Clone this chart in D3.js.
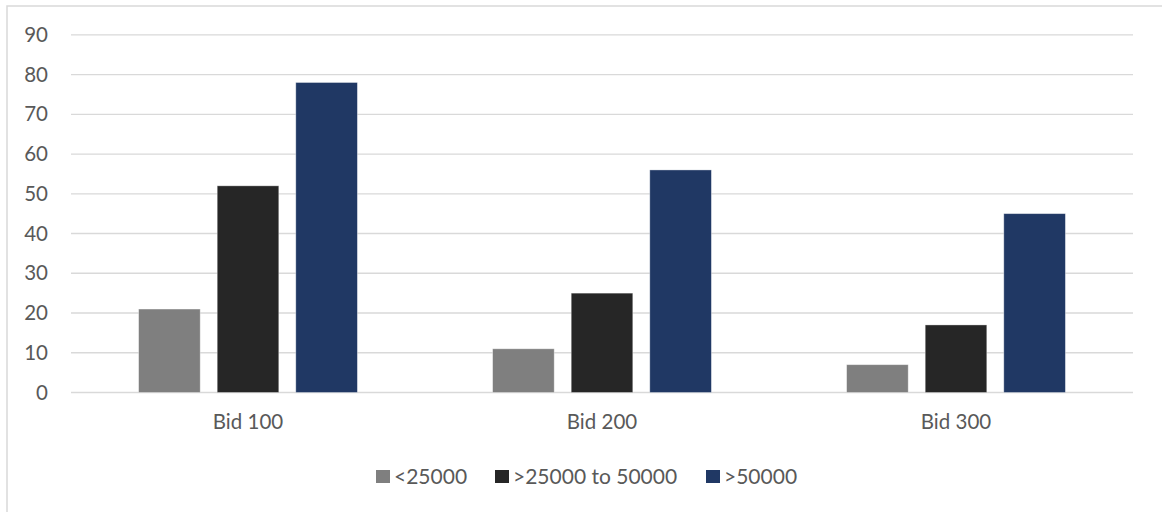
<!DOCTYPE html>
<html>
<head>
<meta charset="utf-8">
<script src="https://cdn.jsdelivr.net/npm/d3@7"></script>
<style>
  html, body { margin: 0; padding: 0; background: #fff; }
  svg { display: block; }
  text { font-family: Lato, "Open Sans", sans-serif; fill: #595959; }
</style>
</head>
<body>
<svg id="chart" width="1162" height="512"></svg>
<script>
// Bid levels on the x axis
const categories = ["Bid 100", "Bid 200", "Bid 300"];
// Income groups shown side by side in each bid level
const seriesNames = ["<25000", ">25000 to 50000", ">50000"];
const seriesColors = ["#7f7f7f", "#262626", "#203864"];
// Counts per income group, one value per bid level
const under25000 = [21, 11, 7];
const from25000to50000 = [52, 25, 17];
const over50000 = [78, 56, 45];
const seriesValues = [under25000, from25000to50000, over50000];
// Value axis ticks
const yTicks = [0, 10, 20, 30, 40, 50, 60, 70, 80, 90];

const svg = d3.select("#chart");
const W = 1162, H = 512;
const labelFont = "Lato, 'Open Sans', sans-serif";

// Chart area frame (only top and left edges fall inside the view)
svg.append("rect")
  .attr("x", 7).attr("y", 6)
  .attr("width", W + 20).attr("height", H + 20)
  .attr("fill", "#fff")
  .attr("stroke", "#d9d9d9")
  .attr("stroke-width", 1.5);

const plot = { left: 71, right: 1133, top: 34.8, bottom: 392.5 };

const x = d3.scaleBand()
  .domain(categories)
  .range([plot.left, plot.right])
  .paddingInner(0).paddingOuter(0);

const y = d3.scaleLinear()
  .domain([0, 90])
  .range([plot.bottom, plot.top]);

// Bars in each group: width and spacing relative to the category band
const barW = x.bandwidth() * 0.174;
const barGap = x.bandwidth() * 0.048;
const groupW = seriesNames.length * barW + (seriesNames.length - 1) * barGap;
const inner = d3.scaleOrdinal()
  .domain(seriesNames)
  .range(seriesNames.map((_, i) => (x.bandwidth() - groupW) / 2 + i * (barW + barGap)));

// Horizontal gridlines
svg.append("g")
  .selectAll("line")
  .data(yTicks)
  .join("line")
  .attr("x1", plot.left).attr("x2", plot.right)
  .attr("y1", d => y(d)).attr("y2", d => y(d))
  .attr("stroke", "#d9d9d9")
  .attr("stroke-width", 1.3);

// Y axis labels
const yAxis = d3.axisLeft(y).tickValues(yTicks).tickSize(0).tickPadding(0);
const gy = svg.append("g")
  .attr("transform", `translate(${plot.left - 23},0)`)
  .call(yAxis);
gy.select(".domain").remove();
gy.selectAll("text")
  .attr("font-size", 20.5)
  .attr("fill", "#595959")
  .style("font-family", labelFont);

// Bars
const groups = svg.append("g")
  .selectAll("g")
  .data(categories)
  .join("g")
  .attr("transform", d => `translate(${x(d)},0)`);

groups.selectAll("rect")
  .data((c, ci) => seriesNames.map((s, si) => ({ s, si, v: seriesValues[si][ci] })))
  .join("rect")
  .attr("x", d => inner(d.s))
  .attr("y", d => y(d.v))
  .attr("width", barW)
  .attr("height", d => y(0) - y(d.v))
  .attr("fill", d => seriesColors[d.si])
  .attr("stroke", "rgba(255,255,255,0.45)")
  .attr("stroke-width", 0.8);

// X axis labels
const xAxis = d3.axisBottom(x).tickSize(0).tickPadding(0);
const gx = svg.append("g")
  .attr("transform", `translate(0,${plot.bottom + 22})`)
  .call(xAxis);
gx.select(".domain").remove();
gx.selectAll("text")
  .attr("font-size", 20.5)
  .attr("fill", "#595959")
  .style("font-family", labelFont);

// Legend
const legendItems = [
  { name: seriesNames[0], color: seriesColors[0], x: 376 },
  { name: seriesNames[1], color: seriesColors[1], x: 495 },
  { name: seriesNames[2], color: seriesColors[2], x: 706 }
];
const legend = svg.append("g");
const li = legend.selectAll("g")
  .data(legendItems)
  .join("g")
  .attr("transform", d => `translate(${d.x},470)`);
li.append("rect")
  .attr("width", 14).attr("height", 13)
  .attr("fill", d => d.color);
li.append("text")
  .attr("x", 18).attr("y", 7)
  .attr("dy", "0.35em")
  .attr("font-size", 21)
  .text(d => d.name);
</script>
</body>
</html>
